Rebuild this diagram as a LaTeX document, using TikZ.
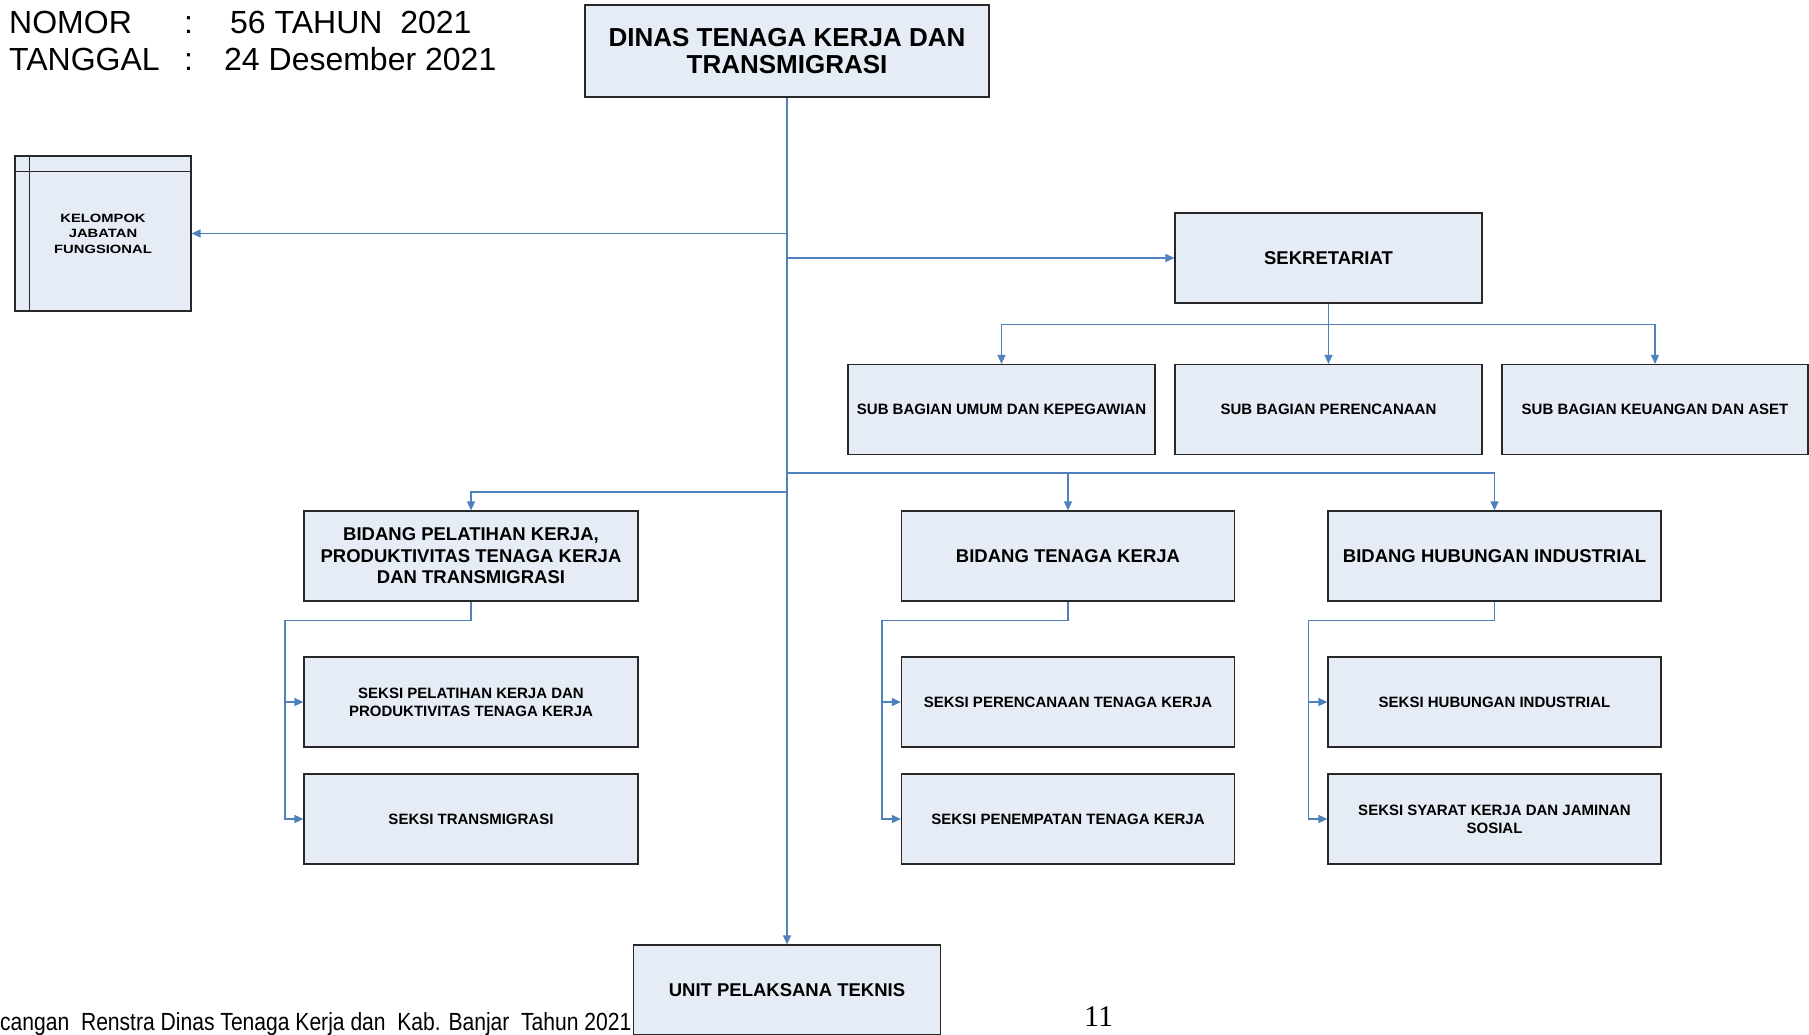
\documentclass[tikz,border=0pt]{standalone}
\usepackage{fontspec}
\setmainfont{Liberation Sans}
\newfontfamily\serifnum{Liberation Serif}
\newfontfamily\widesans[FakeStretch=1.23]{Liberation Sans}
\newfontfamily\narrowsans[FakeStretch=0.85]{Liberation Sans}
\definecolor{BoxFill}{RGB}{230,236,246}
\definecolor{BoxLine}{RGB}{40,40,40}
\definecolor{LinkBlue}{RGB}{79,129,189}
\usetikzlibrary{arrows.meta,positioning}

\begin{document}
\begin{tikzpicture}[x=1pt,y=-1pt,
  box/.style={draw=BoxLine,line width=1.2pt,fill=BoxFill,align=center,inner sep=2pt,minimum height=90pt},
  bigtext/.style={font=\bfseries\fontsize{18.5}{21.5}\selectfont},
  smalltext/.style={font=\bfseries\fontsize{15}{17.7}\selectfont},
  head/.style={anchor=base west,inner sep=0pt,font=\fontsize{32}{32}\selectfont},
  link/.style={LinkBlue,line width=1.3pt},
  >={Triangle[length=9pt,width=8pt]}]
  \clip (0,0) rectangle (1809,1034);

  % header
  \node[head] (nomor) at (9,33.5) {NOMOR};
  \node[head] (nomorsep) at (184,33.5) {:};
  \node[head] (nomorval) at (230,33.5) {56 TAHUN\ \ 2021};
  \node[head] (tgl) at (9,70.5) {TANGGAL};
  \node[head] (tglsep) at (184,70.5) {:};
  \node[head] (tglval) at (224,70.5) {24 Desember 2021};

  % footer
  \node[anchor=base west,inner sep=0pt,font=\narrowsans\fontsize{24.8}{24.8}\selectfont] (footer) at (0,1030)
    {cangan\ \ Renstra Dinas Tenaga Kerja dan\ \ Kab. Banjar\ \ Tahun 2021};
  \node[anchor=base west,inner sep=0pt,font=\serifnum\fontsize{30}{30}\selectfont] (pagenum) at (1084,1026) {11};

  % boxes
  \node[box,minimum width=404pt,minimum height=92pt,font=\bfseries\fontsize{26}{27}\selectfont] (dinas) at (787,51)
    {DINAS TENAGA KERJA DAN\\TRANSMIGRASI};
  \node[box,minimum width=176pt,minimum height=155pt,font=\widesans\bfseries\fontsize{12}{15.5}\selectfont] (kjf) at (103,233.5)
    {KELOMPOK\\JABATAN\\FUNGSIONAL};
  \draw[BoxLine,line width=1.2pt] ([xshift=15pt]kjf.north west) -- ([xshift=15pt]kjf.south west)
    ([yshift=-16pt]kjf.north west) -- ([yshift=-16pt]kjf.north east);

  \node[box,bigtext,minimum width=307pt] (sekr) at (1328.5,258) {SEKRETARIAT};
  \node[box,smalltext,minimum width=307pt] (sub1) at (1001.5,409.5) {SUB BAGIAN UMUM DAN KEPEGAWIAN};
  \node[box,smalltext,minimum width=307pt] (sub2) at (1328.5,409.5) {SUB BAGIAN PERENCANAAN};
  \node[box,smalltext,minimum width=306pt] (sub3) at (1655,409.5) {SUB BAGIAN KEUANGAN DAN ASET};

  \node[box,bigtext,minimum width=334pt] (bpel) at (471,556)
    {BIDANG PELATIHAN KERJA,\\PRODUKTIVITAS TENAGA KERJA\\DAN TRANSMIGRASI};
  \node[box,bigtext,minimum width=333pt] (btk) at (1068,556) {BIDANG TENAGA KERJA};
  \node[box,bigtext,minimum width=333pt] (bhi) at (1494.5,556) {BIDANG HUBUNGAN INDUSTRIAL};

  \node[box,smalltext,minimum width=334pt] (pel1) at (471,702) {SEKSI PELATIHAN KERJA DAN\\PRODUKTIVITAS TENAGA KERJA};
  \node[box,smalltext,minimum width=334pt] (pel2) at (471,819) {SEKSI TRANSMIGRASI};
  \node[box,smalltext,minimum width=333pt] (tk1) at (1068,702) {SEKSI PERENCANAAN TENAGA KERJA};
  \node[box,smalltext,minimum width=333pt] (tk2) at (1068,819) {SEKSI PENEMPATAN TENAGA KERJA};
  \node[box,smalltext,minimum width=333pt] (hi1) at (1494.5,702) {SEKSI HUBUNGAN INDUSTRIAL};
  \node[box,smalltext,minimum width=333pt] (hi2) at (1494.5,819) {SEKSI SYARAT KERJA DAN JAMINAN\\SOSIAL};

  \node[box,bigtext,minimum width=307pt] (upt) at (787,990) {UNIT PELAKSANA TEKNIS};

  % connectors
  \draw[link,->] (dinas.south) -- (upt.north);
  \draw[link,->] (dinas.south |- kjf.east) -- (kjf.east);
  \draw[link,->] (dinas.south |- sekr.west) -- (sekr.west);

  \draw[link] (sekr.south) -- ++(0,21) coordinate (subbus);
  \foreach \s in {sub1,sub2,sub3}
    \draw[link,->] (subbus) -| (\s.north);

  \coordinate (bidbus) at (787,473);
  \coordinate (pelbus) at (787,492);
  \draw[link,->] (bidbus) -| (btk.north);
  \draw[link,->] (bidbus) -| (bhi.north);
  \draw[link,->] (pelbus) -| (bpel.north);

  \foreach \b/\s/\t in {bpel/pel1/pel2,btk/tk1/tk2,bhi/hi1/hi2} {
    \draw[link,->] (\b.south) -- ++(0,19) -- ++(-186,0) coordinate (\b-k) |- (\s.west);
    \draw[link,->] (\b-k) |- (\t.west);
  }
\end{tikzpicture}
\end{document}
